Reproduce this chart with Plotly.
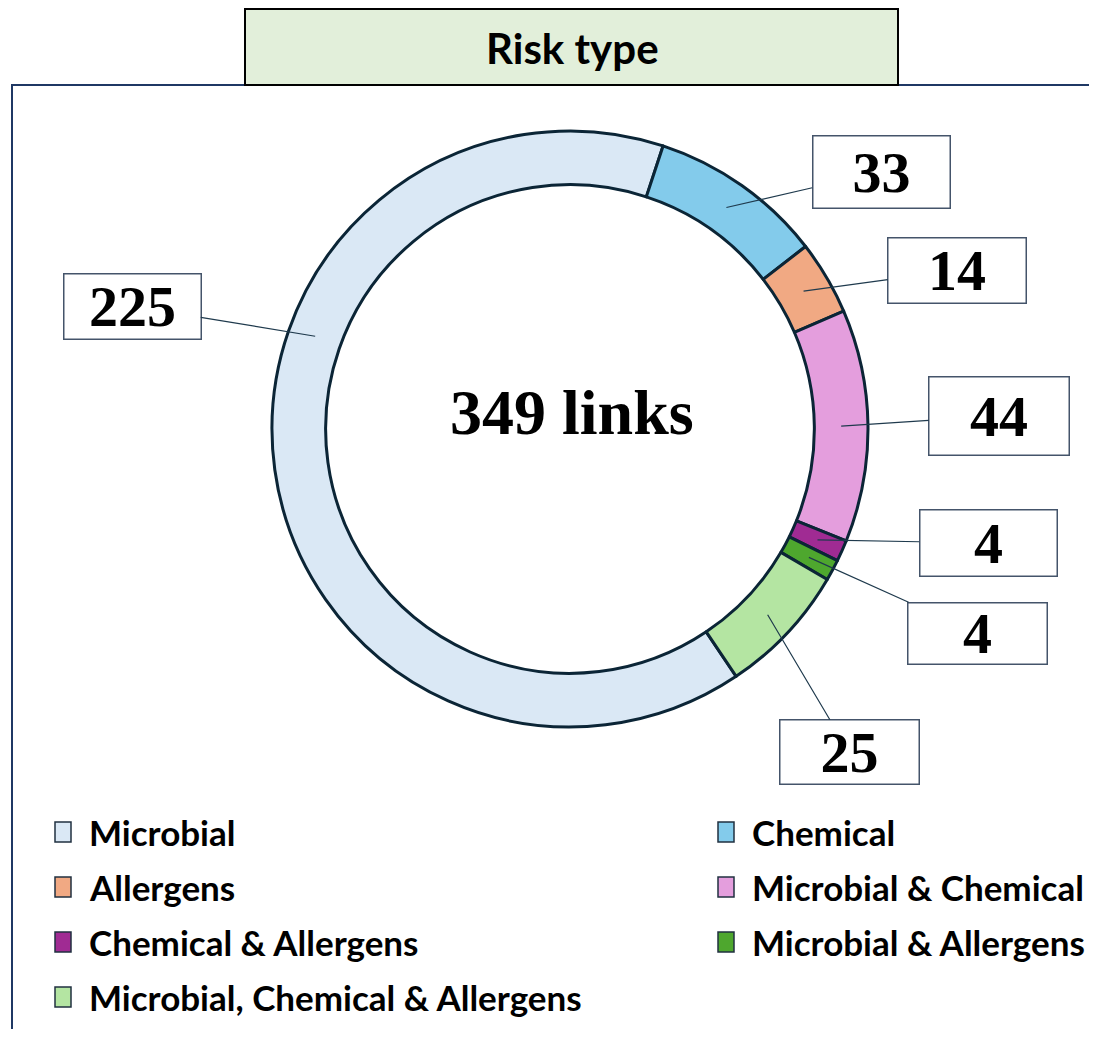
import math
import plotly.graph_objects as go

# ---------------- data ----------------
categories = ["Microbial", "Chemical", "Allergens", "Microbial & Chemical",
              "Chemical & Allergens", "Microbial & Allergens",
              "Microbial, Chemical & Allergens"]
links = [225, 33, 14, 44, 4, 4, 25]
colors = ["#DAE8F5", "#83CBEB", "#F1A983", "#E49EDD", "#A02B93", "#4EA72E", "#B4E5A2"]
title_text = "Risk type"
center_text = f"{sum(links)} links"

# ---------------- layout constants (pixels, window coordinates) ----------------
OFF = 8                      # page body margin
W, H = 1097 - 2 * OFF, 1037 - 2 * OFF
CX, CY, R = 570, 429, 298
HOLE = 0.82
CHEMICAL_START_DEG = 18.2    # clockwise from 12 o'clock
EDGE = "#0B2536"

def px(x, y):
    return (x - OFF) / W, 1 - (y - OFF) / H

total = sum(links)
spans = [v / total * 360 for v in links]
rotation = (CHEMICAL_START_DEG - spans[0]) % 360

dx0, dy0 = px(CX - R, CY + R)
dx1, dy1 = px(CX + R, CY - R)
fig = go.Figure(go.Pie(
    labels=categories, values=links, sort=False, direction="clockwise",
    rotation=rotation, hole=HOLE,
    marker=dict(colors=colors, line=dict(color=EDGE, width=3)),
    textinfo="none", hoverinfo="label+value", showlegend=False,
    domain=dict(x=[dx0, dx1], y=[dy0, dy1]),
))

shapes = []
annotations = []

# panel frame and title box
x0, y0 = px(12, 85)
x1, y1 = px(1130, 1070)
shapes.append(dict(type="rect", xref="paper", yref="paper", x0=x0, y0=y1, x1=x1, y1=y0,
                   line=dict(color="#1F3864", width=2), fillcolor="rgba(0,0,0,0)", layer="below"))
tx0, ty0 = px(245, 9)
tx1, ty1 = px(898, 85)
shapes.append(dict(type="rect", xref="paper", yref="paper", x0=tx0, y0=ty1, x1=tx1, y1=ty0,
                   line=dict(color="#000000", width=2), fillcolor="#E2EFDA", layer="below"))
ttx, tty = px(572, 48)
annotations.append(dict(x=ttx, y=tty, xref="paper", yref="paper", text=f"<b>{title_text}</b>",
                        showarrow=False, xanchor="center", yanchor="middle",
                        font=dict(family="Lato", size=42, color="#000000")))

# center text
cx_, cy_ = px(572, 412)
annotations.append(dict(x=cx_, y=cy_, xref="paper", yref="paper", text=f"<b>{center_text}</b>",
                        showarrow=False, xanchor="center", yanchor="middle",
                        font=dict(family="Liberation Serif", size=64, color="#000000")))

# value call-outs (box centres in px, tip position along the slice as a fraction)
box_centres = [(132, 306), (881, 172), (957, 270), (999, 416), (988, 543), (977, 633), (849, 752)]
box_sizes = [(136, 64), (136, 71), (137, 64), (139, 77), (136, 65), (138, 60), (138, 63)]
tip_fraction = [0.62, 0.5, 0.5, 0.5, 0.5, 0.5, 0.5]
RT = R * (1 + HOLE) / 2

start = rotation
for i, v in enumerate(links):
    theta = math.radians(start + spans[i] * tip_fraction[i])
    start += spans[i]
    tx = CX + RT * math.sin(theta)
    ty = CY - RT * math.cos(theta)
    bx, by = box_centres[i]
    bw, bh = box_sizes[i]
    ax_, ay_ = px(tx, ty)
    annotations.append(dict(
        x=ax_, y=ay_, xref="paper", yref="paper", text=f"<b>{v}</b>",
        showarrow=True, arrowhead=0, arrowwidth=1.2, arrowcolor="#1F3A4D",
        ax=bx - tx, ay=by - ty, axref="pixel", ayref="pixel", standoff=0,
        width=bw, height=bh, bgcolor="#FFFFFF", bordercolor="#44546A", borderwidth=1.5,
        borderpad=0, align="center", valign="middle",
        font=dict(family="Liberation Serif", size=58, color="#000000")))

# legend (two columns, row-major)
for i, (lab, col) in enumerate(zip(categories, colors)):
    c, r = i % 2, i // 2
    sx = 55 + c * 663
    sy = 832 + r * 55
    a0, b0 = px(sx, sy - 10)
    a1, b1 = px(sx + 16, sy + 10)
    shapes.append(dict(type="rect", xref="paper", yref="paper", x0=a0, y0=b1, x1=a1, y1=b0,
                       line=dict(color="#203040", width=1.5), fillcolor=col))
    lx, ly = px(sx + 32, sy)
    annotations.append(dict(x=lx, y=ly, xref="paper", yref="paper", text=f"<b>{lab}</b>",
                            showarrow=False, xanchor="left", yanchor="middle",
                            font=dict(family="Lato", size=35, color="#000000")))

fig.update_layout(width=W, height=H, margin=dict(l=0, r=0, t=0, b=0),
                  paper_bgcolor="#FFFFFF", plot_bgcolor="#FFFFFF",
                  shapes=shapes, annotations=annotations, showlegend=False)

fig.write_html("out.html")
